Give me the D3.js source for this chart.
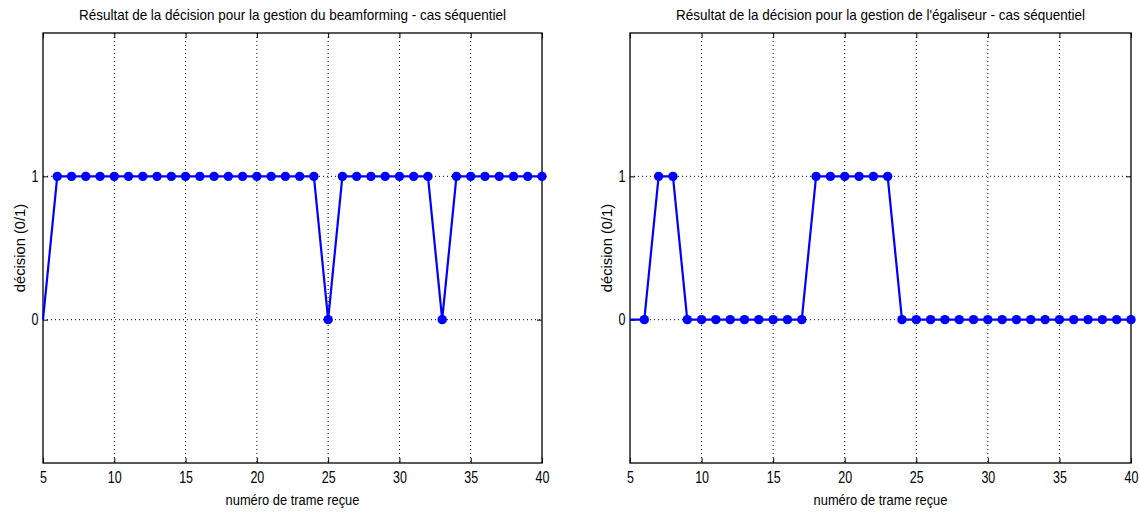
<!DOCTYPE html>
<html><head><meta charset="utf-8">
<script src="https://cdn.jsdelivr.net/npm/d3@7"></script>
<style>
body{margin:0;background:#fff;}
text{font-family:"Liberation Sans","Arial",sans-serif;fill:#000;}
</style></head>
<body><svg id="c" width="1139" height="513"></svg>
<script>
const frames = d3.range(5, 41);
const beamforming = [0,1,1,1,1,1,1,1,1,1,1,1,1,1,1,1,1,1,1,1,0,1,1,1,1,1,1,1,0,1,1,1,1,1,1,1];
const egaliseur   = [0,0,1,1,0,0,0,0,0,0,0,0,0,1,1,1,1,1,1,0,0,0,0,0,0,0,0,0,0,0,0,0,0,0,0,0];
const xTicks = [5,10,15,20,25,30,35,40];
const yTicks = [0,1];
const titles = ["Résultat de la décision pour la gestion du beamforming - cas séquentiel",
                "Résultat de la décision pour la gestion de l'égaliseur - cas séquentiel"];
const xLabel = "numéro de trame reçue";
const yLabel = "décision (0/1)";

(function(){
const svg = d3.select("#c");
const panels = [
  {left:43, right:542, values:beamforming, title:titles[0]},
  {left:630, right:1131, values:egaliseur, title:titles[1]}
];
const plotTop = 33, plotBottom = 463;

panels.forEach(p => {
  const x = d3.scaleLinear().domain([5,40]).range([p.left, p.right]);
  const y = d3.scaleLinear().domain([-1,2]).range([plotBottom, plotTop]);
  const g = svg.append("g");
  g.selectAll(".gx").data(xTicks.filter(t=>t>5&&t<40)).join("line")
    .attr("x1",d=>x(d)).attr("x2",d=>x(d)).attr("y1",plotTop).attr("y2",plotBottom)
    .attr("stroke","#000").attr("stroke-width",1).attr("stroke-dasharray","1,3");
  g.selectAll(".gy").data(yTicks).join("line")
    .attr("x1",p.left).attr("x2",p.right).attr("y1",d=>y(d)).attr("y2",d=>y(d))
    .attr("stroke","#000").attr("stroke-width",1).attr("stroke-dasharray","1,3");
  const xa = g.append("g").attr("transform",`translate(0,${plotBottom})`)
    .call(d3.axisBottom(x).tickValues(xTicks).tickSize(-5).tickPadding(9).tickFormat(d3.format("d")));
  const xt = g.append("g").attr("transform",`translate(0,${plotTop})`)
    .call(d3.axisTop(x).tickValues(xTicks).tickSize(-5).tickFormat(""));
  const ya = g.append("g").attr("transform",`translate(${p.left},0)`)
    .call(d3.axisLeft(y).tickValues(yTicks).tickSize(-5).tickPadding(6).tickFormat(d3.format("d")));
  const yr = g.append("g").attr("transform",`translate(${p.right},0)`)
    .call(d3.axisRight(y).tickValues(yTicks).tickSize(-5).tickFormat(""));
  [xa,xt,ya,yr].forEach(a=>{
    a.select(".domain").remove();
    a.selectAll("line").attr("stroke","#000");
    a.selectAll("text").attr("font-size",16).attr("font-family",null).attr("transform","scale(0.78,1)");
  });
  g.append("rect").attr("x",p.left).attr("y",plotTop).attr("width",p.right-p.left).attr("height",plotBottom-plotTop)
    .attr("fill","none").attr("stroke","#000").attr("stroke-width",1.3);
  const data = frames.map((f,i)=>({f, v:p.values[i]}));
  g.append("path").datum(data)
    .attr("d", d3.line().x(d=>x(d.f)).y(d=>y(d.v)))
    .attr("fill","none").attr("stroke","#0000ff").attr("stroke-width",2.2);
  g.selectAll(".m").data(data.slice(1)).join("circle")
    .attr("cx",d=>x(d.f)).attr("cy",d=>y(d.v)).attr("r",4.7).attr("fill","#0000ff");
  const cx = (p.left+p.right)/2;
  g.append("text").attr("transform",`translate(${cx},20) scale(0.9,1)`).attr("text-anchor","middle").attr("font-size",15).text(p.title);
  g.append("text").attr("transform",`translate(${cx},505) scale(0.86,1)`).attr("text-anchor","middle").attr("font-size",15).text(xLabel);
  g.append("text").attr("transform",`translate(${p.left-18},${(plotTop+plotBottom)/2}) rotate(-90) scale(0.95,1)`)
    .attr("text-anchor","middle").attr("font-size",15.5).text(yLabel);
});
})();
</script></body></html>
